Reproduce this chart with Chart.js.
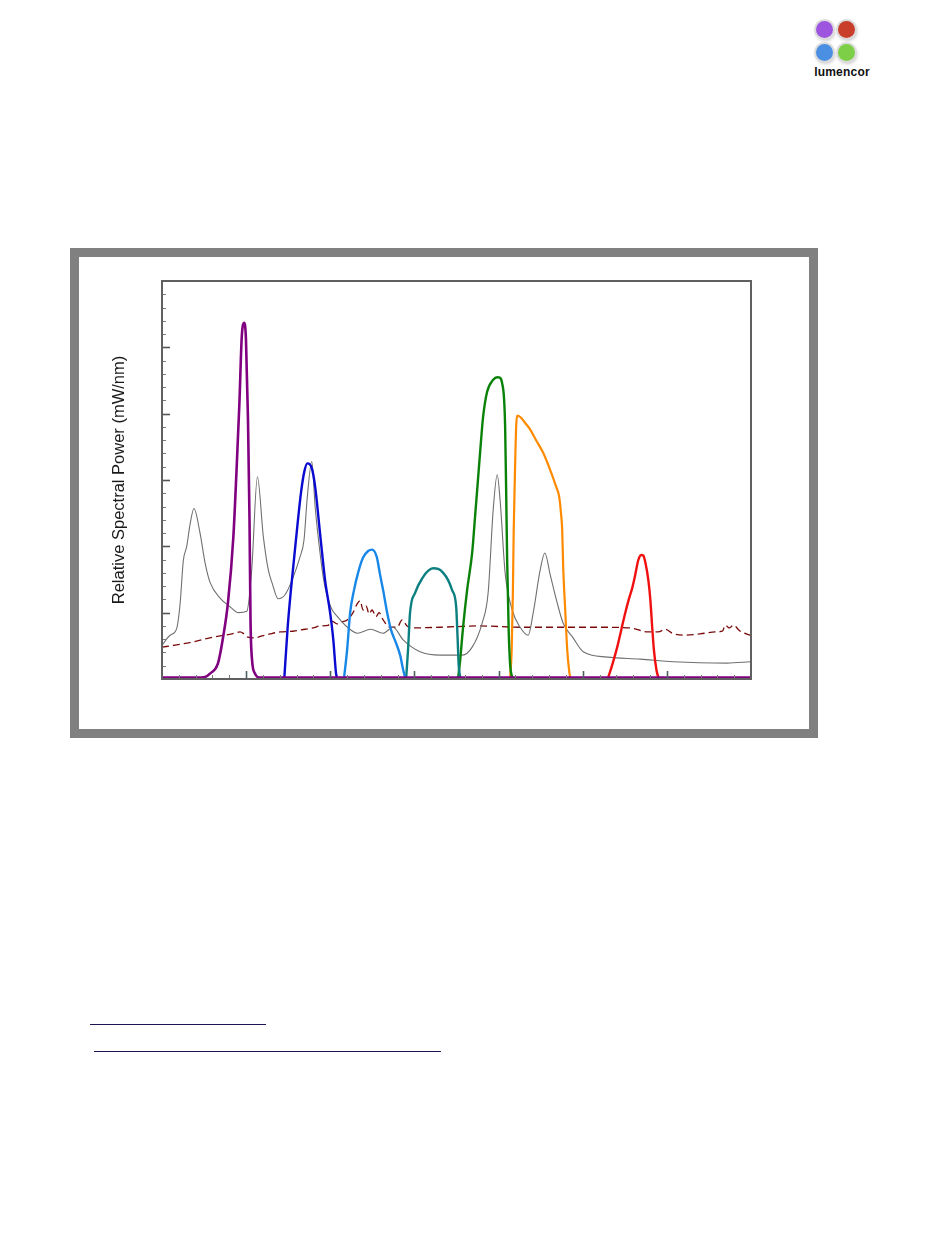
<!DOCTYPE html>
<html>
<head>
<meta charset="utf-8">
<script src="https://cdn.jsdelivr.net/npm/chart.js@4.4.1/dist/chart.umd.min.js"></script>
<style>
  html, body { margin:0; padding:0; background:#fff; }
  body { width:950px; height:1260px; position:relative; overflow:hidden; font-family:"Liberation Sans", Arial, sans-serif; }
  #frame { position:absolute; left:70px; top:248px; width:748px; height:490px; box-sizing:border-box; border:9px solid #808080; background:#fff; }
  #wrap { position:absolute; left:79px; top:257px; width:731px; height:472px; }
  .dot { position:absolute; width:17px; height:17px; border-radius:50%; box-shadow:0 0 0 2px #dcdcdc, 1px 2px 4px rgba(0,0,0,0.35); }
  #logoText { position:absolute; left:808px; top:65px; width:68px; text-align:center; font:bold 12px "Liberation Sans", Arial, sans-serif; color:#111; letter-spacing:0.2px; }
  .ul { position:absolute; height:0; border-top:1.5px solid #1a1450; }
</style>
</head>
<body>
<div class="dot" style="left:816px; top:21px; background:#9d55df;"></div>
<div class="dot" style="left:838px; top:21px; background:#c93d2b;"></div>
<div class="dot" style="left:816px; top:44px; background:#4a8fe2;"></div>
<div class="dot" style="left:838px; top:44px; background:#7ccf47;"></div>
<div id="logoText">lumencor</div>

<div id="frame"></div>
<div id="wrap"><canvas id="c" width="731" height="472"></canvas></div>

<div class="ul" style="left:90px; top:1024px; width:176px;"></div>
<div class="ul" style="left:94px; top:1051px; width:347px;"></div>

<script>
// ---- data (wavelength in nm, relative spectral power) ----
const violetWl    = [350, 370, 375.6, 378.5, 383.3, 386.3, 389.2, 392.4, 394.3, 396.0, 397.4, 398.9, 399.9, 401.1, 402.0, 402.6, 403.5, 405.3, 408.3, 450, 500, 550, 600, 650, 700];
const violetPower = [0.02, 0.02, 0.03, 0.08, 0.24, 0.63, 1.15, 2.14, 3.15, 4.16, 5.16, 5.37, 5.11, 3.91, 2.40, 0.89, 0.29, 0.08, 0.02, 0.02, 0.02, 0.02, 0.02, 0.02, 0.02];

const blueWl    = [422.7, 424.7, 426.6, 429.6, 432.6, 434.6, 436.4, 439.0, 441.0, 443.9, 446.9, 449.9, 451.8, 453.4, 454.0];
const bluePower = [0.02, 0.79, 1.34, 2.10, 2.81, 3.13, 3.25, 3.18, 2.90, 2.20, 1.49, 1.00, 0.59, 0.09, 0.02];

const cyanWl    = [458.2, 460.0, 461.8, 464.1, 466.5, 469.5, 472.5, 474.8, 477.6, 479.6, 481.4, 483.8, 486.1, 489.1, 491.5, 493.3, 494.5];
const cyanPower = [0.02, 0.44, 1.00, 1.34, 1.60, 1.83, 1.93, 1.95, 1.84, 1.57, 1.34, 1.00, 0.74, 0.54, 0.36, 0.14, 0.02];

const tealWl    = [495.1, 496.2, 497.4, 500.4, 505.2, 508.1, 511.1, 514.1, 517.1, 520.0, 522.4, 524.8, 525.7, 526.3, 527.2];
const tealPower = [0.02, 0.44, 1.00, 1.30, 1.54, 1.63, 1.67, 1.66, 1.60, 1.49, 1.34, 1.09, 0.59, 0.21, 0.02];

const greenWl    = [526.0, 527.2, 528.9, 531.3, 534.3, 536.1, 537.9, 539.6, 540.8, 543.2, 546.8, 549.2, 550.9, 552.1, 553.3, 553.9, 554.5, 555.1, 556.0, 556.9, 558.1];
const greenPower = [0.02, 0.29, 0.78, 1.34, 1.90, 2.47, 3.05, 3.60, 3.95, 4.33, 4.51, 4.55, 4.54, 4.46, 4.21, 3.80, 2.85, 1.79, 0.74, 0.21, 0.02];

const orangeWl    = [556.9, 557.8, 558.5, 559.0, 559.9, 560.5, 561.1, 562.9, 565.8, 568.8, 572.3, 576.5, 580.7, 584.2, 586.0, 587.2, 587.8, 588.4, 589.6, 590.8, 592.0, 592.6];
const orangePower = [0.02, 0.44, 1.30, 2.25, 3.30, 3.83, 3.97, 3.95, 3.86, 3.76, 3.60, 3.41, 3.15, 2.90, 2.75, 2.47, 2.25, 1.69, 1.04, 0.44, 0.11, 0.02];

const redWl    = [615.1, 617.5, 620.5, 622.9, 625.3, 627.6, 629.4, 631.2, 633.0, 634.8, 636.0, 637.2, 639.0, 640.2, 641.4, 642.3, 643.8, 645.0];
const redPower = [0.02, 0.21, 0.48, 0.74, 1.00, 1.22, 1.37, 1.57, 1.79, 1.87, 1.86, 1.76, 1.49, 1.19, 0.74, 0.44, 0.14, 0.02];

const lampWl    = [350, 354.8, 358.7, 360.7, 362.7, 364.7, 366.6, 369.0, 372.6, 375.6, 378.5, 384.5, 390.4, 395.4, 400.4, 403.3, 406.7, 410.2, 413.2, 415.4, 419.0, 423.1, 427.3, 432.0, 434.4, 436.2, 439.0, 441.0, 443.0, 446.1, 450.2, 454.3, 460.2, 466.1, 473.9, 481.4, 487.3, 493.3, 503.4, 515.3, 528.4, 534.3, 540.2, 543.8, 546.8, 549.2, 550.9, 553.9, 558.1, 562.8, 567.6, 570.6, 574.7, 577.5, 580.7, 584.8, 588.4, 594.3, 600.3, 614.6, 634.2, 653.8, 685.9, 699.6];
const lampPower = [0.51, 0.66, 0.76, 1.12, 1.79, 2.00, 2.32, 2.57, 2.20, 1.75, 1.46, 1.22, 1.09, 1.00, 1.02, 1.64, 3.05, 2.15, 1.64, 1.45, 1.21, 1.27, 1.49, 1.84, 2.10, 2.70, 3.28, 2.60, 2.10, 1.49, 1.09, 0.94, 0.78, 0.69, 0.75, 0.69, 0.78, 0.59, 0.41, 0.36, 0.36, 0.48, 0.84, 1.30, 2.55, 3.08, 2.70, 1.60, 1.04, 0.78, 0.66, 1.00, 1.64, 1.90, 1.57, 1.15, 0.84, 0.62, 0.41, 0.33, 0.30, 0.26, 0.24, 0.26];

const xenonWl    = [350, 357.7, 368.4, 378.5, 384.5, 391.6, 396.4, 398.7, 401.1, 405.3, 409.5, 414.2, 420.2, 427.9, 435.0, 439.8, 443.9, 448.7, 451.1, 454.0, 457.0, 460.0, 463.5, 465.9, 467.7, 469.5, 471.3, 473.1, 474.8, 477.2, 479.0, 481.4, 485.5, 489.7, 492.7, 495.6, 498.6, 515.3, 539.0, 562.8, 586.6, 610.4, 628.2, 638.9, 644.9, 649.1, 653.2, 660.9, 669.8, 678.8, 683.0, 684.7, 687.1, 689.5, 693.6, 699.6];
const xenonPower = [0.48, 0.51, 0.56, 0.62, 0.65, 0.68, 0.71, 0.68, 0.63, 0.62, 0.65, 0.68, 0.71, 0.72, 0.75, 0.77, 0.80, 0.81, 0.87, 0.83, 0.86, 0.89, 1.00, 1.13, 1.18, 1.04, 1.10, 0.98, 1.04, 0.94, 1.00, 0.89, 0.78, 0.78, 0.89, 0.80, 0.77, 0.78, 0.80, 0.78, 0.78, 0.78, 0.77, 0.71, 0.71, 0.75, 0.69, 0.66, 0.68, 0.71, 0.72, 0.81, 0.77, 0.81, 0.72, 0.66];

const xRange = [350, 700];
const yRange = [0, 6];
const yTitle = 'Relative Spectral Power (mW/nm)';

// ---- build ----
const pts = (w, p) => w.map((v, i) => ({ x: v, y: p[i] }));
const line = (w, p, color, width, extra) => Object.assign({
  data: pts(w, p), borderColor: color, borderWidth: width, pointRadius: 0,
  fill: false, cubicInterpolationMode: 'monotone'
}, extra || {});

const frameTicks = {
  id: 'frameTicks',
  afterDraw(chart) {
    const { ctx, chartArea: a, scales: { x, y } } = chart;
    ctx.save();
    for (let v = xRange[0] + 10; v < xRange[1]; v += 10) {
      const major = v % 50 === 0;
      const px = Math.round(x.getPixelForValue(v)) + 0.5;
      ctx.strokeStyle = major ? '#4f5f5f' : '#7a7a7a';
      ctx.lineWidth = major ? 1.6 : 1;
      ctx.beginPath(); ctx.moveTo(px, a.bottom); ctx.lineTo(px, a.bottom - (major ? 8 : 4)); ctx.stroke();
    }
    for (let k = 1; k < 30; k++) {
      const v = k * 0.2;
      const major = k % 5 === 0;
      const py = Math.round(y.getPixelForValue(v)) + 0.5;
      ctx.strokeStyle = major ? '#555' : '#7a7a7a';
      ctx.lineWidth = major ? 1.6 : 1;
      ctx.beginPath(); ctx.moveTo(a.left, py); ctx.lineTo(a.left + (major ? 8 : 4), py); ctx.stroke();
    }
    ctx.strokeStyle = '#606060';
    ctx.lineWidth = 2;
    ctx.strokeRect(a.left, a.top, a.right - a.left, a.bottom - a.top);
    ctx.restore();
  }
};

new Chart(document.getElementById('c'), {
  type: 'line',
  data: {
    datasets: [
      line(violetWl, violetPower, '#800080', 2.6),
      line(blueWl, bluePower, '#0a0ad0', 2.4),
      line(cyanWl, cyanPower, '#1888e8', 2.4),
      line(tealWl, tealPower, '#0c8080', 2.4),
      line(greenWl, greenPower, '#0a820a', 2.4),
      line(orangeWl, orangePower, '#ff8a00', 2.2),
      line(redWl, redPower, '#f01010', 2.4),
      line(lampWl, lampPower, '#707070', 1.1),
      line(xenonWl, xenonPower, '#7a0a0a', 1.3, { borderDash: [7, 4] })
    ]
  },
  options: {
    responsive: false,
    animation: false,
    events: [],
    layout: { padding: { top: 24, right: 59, left: 0, bottom: 0 } },
    plugins: { legend: { display: false }, tooltip: { enabled: false }, title: { display: false } },
    scales: {
      x: {
        type: 'linear', min: xRange[0], max: xRange[1],
        grid: { display: false }, border: { display: false },
        ticks: { display: false },
        afterFit(s) { s.height = 50; }
      },
      y: {
        type: 'linear', min: yRange[0], max: yRange[1],
        grid: { display: false }, border: { display: false },
        ticks: { display: false },
        title: {
          display: true, text: yTitle, color: '#1a1a1a',
          font: { family: '"Liberation Sans", Arial, sans-serif', size: 16.5, weight: 'normal' },
          padding: { top: 31, bottom: 0 }
        },
        afterFit(s) { s.width = 83; }
      }
    }
  },
  plugins: [frameTicks]
});
</script>
</body>
</html>
